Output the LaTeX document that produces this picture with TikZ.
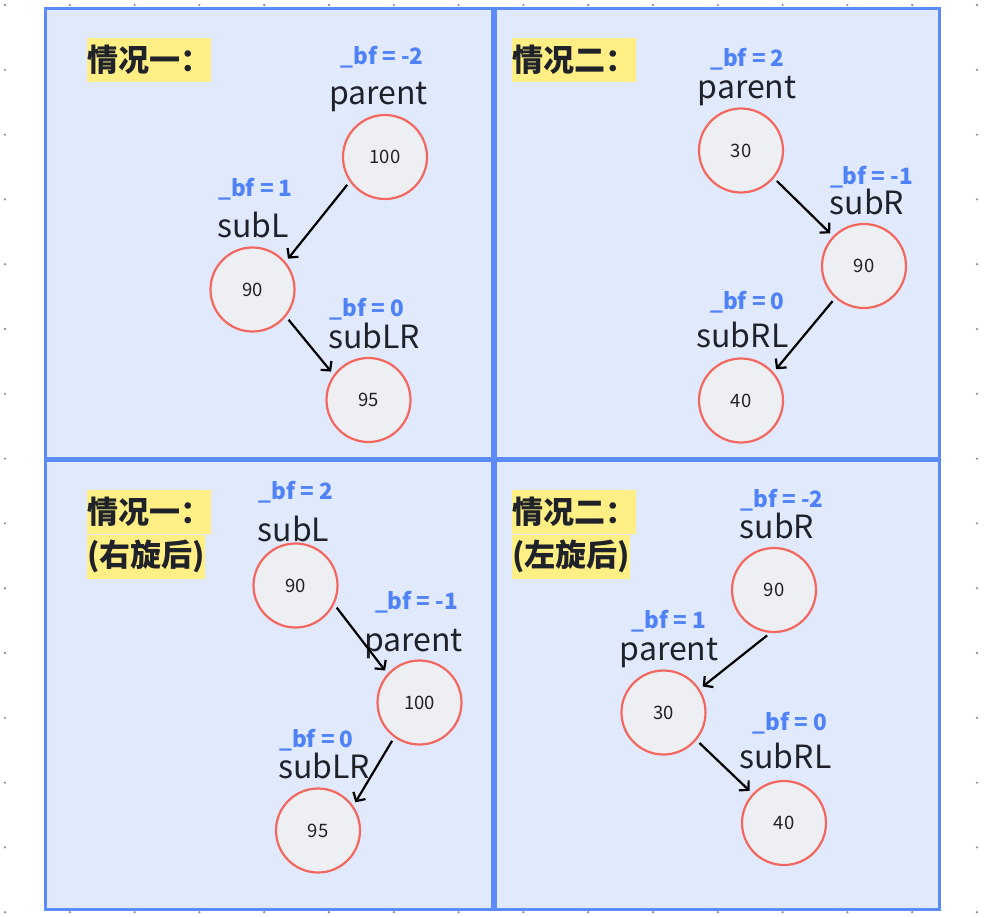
\documentclass[tikz,border=0pt]{standalone}
\usepackage{fontspec}
\usepackage{tikz}
\usetikzlibrary{arrows.meta, positioning}
\newfontfamily\cjk{Noto Sans CJK SC}
\definecolor{panelfill}{HTML}{E1E9FD}
\definecolor{panelline}{HTML}{5A8BF8}
\definecolor{bfblue}{HTML}{4F82F7}
\definecolor{ringred}{HTML}{F4675F}
\definecolor{ringfill}{HTML}{EEEFF2}
\definecolor{inkdark}{HTML}{1F2329}
\definecolor{tagyellow}{HTML}{FFEF85}
\definecolor{dotgray}{HTML}{8F959E}

\begin{document}
\begin{tikzpicture}[
  x=1pt, y=-1pt,
  panel/.style={draw=panelline, fill=panelfill, line width=2.5pt},
  tag/.style={fill=tagyellow, inner sep=0pt, minimum height=44pt, anchor=north west,
              font=\cjk\bfseries\fontsize{31}{31}\selectfont, text=inkdark},
  tnode/.style={circle, draw=ringred, fill=ringfill, line width=2.2pt,
                minimum size=84pt, inner sep=0pt,
                font=\cjk\fontsize{18.5}{18.5}\selectfont, text=inkdark},
  tname/.style={inner sep=0pt, outer sep=0pt, text height=24pt, text depth=0pt,
                font=\cjk\fontsize{32}{32}\selectfont, text=inkdark},
  tbf/.style={inner sep=0pt, outer sep=0pt, text depth=0pt,
              font=\cjk\bfseries\fontsize{22.5}{22.5}\selectfont, text=bfblue},
  arrow/.style={-{Straight Barb[length=6.5pt,width=14pt]}, line width=2.2pt, color=black,
                shorten <=4pt, shorten >=4pt},
]
  \useasboundingbox (0,0) rectangle (985,916);
  % Dot grid
  \foreach \gx in {0,...,15}
    \foreach \gy in {0,...,14}
      \fill[dotgray] (5+64.8*\gx, 5+64.8*\gy) circle (1.3pt);

  % Panels
  \draw[panel] (45.5,8.5) rectangle (492.5,458);
  \draw[panel] (495.5,8.5) rectangle (939.5,458);
  \draw[panel] (45.5,460.5) rectangle (492.5,909.5);
  \draw[panel] (495.5,460.5) rectangle (939.5,909.5);

  % Case 1
  \node[tag] (T1) at (87,38) {情况一：};
  \node[tnode] (P1)  at (385,157)     {100};
  \node[tnode] (L1)  at (252.5,289.5) {90};
  \node[tnode] (LR1) at (368.5,400)   {95};
  \node[tname, above=9pt of P1, xshift=-6.5pt]    (P1n)  {parent};
  \node[tbf, above=16pt of P1n, xshift=3.5pt]     (P1b)  {\_bf = -2};
  \node[tname, above=8.5pt of L1, xshift=0.5pt]   (L1n)  {subL};
  \node[tbf, above=17pt of L1n, xshift=2.5pt]     (L1b)  {\_bf = 1};
  \node[tname, above=8pt of LR1, xshift=5.5pt]    (LR1n) {subLR};
  \node[tbf, above=8pt of LR1n, xshift=-7pt]      (LR1b) {\_bf = 0};

  % Case 2
  \node[tag] (T2) at (512,38) {情况二：};
  \node[tnode] (P2)  at (741,150.5) {30};
  \node[tnode] (R2)  at (864,266)   {90};
  \node[tnode] (RL2) at (741,400.5) {40};
  \node[tname, above=8.8pt of P2, xshift=6pt]     (P2n)  {parent};
  \node[tbf, above=7.7pt of P2n, xshift=0.5pt]    (P2b)  {\_bf = 2};
  \node[tname, above=8.3pt of R2, xshift=3pt]     (R2n)  {subR};
  \node[tbf, above=6pt of R2n, xshift=4.5pt]      (R2b)  {\_bf = -1};
  \node[tname, above=9.5pt of RL2, xshift=1.5pt]  (RL2n) {subRL};
  \node[tbf, above=14.3pt of RL2n, xshift=5pt]    (RL2b) {\_bf = 0};

  % Case 1 after right rotation
  \node[tag] (T3a) at (87,490) {情况一：};
  \node[tag] (T3b) at (T3a.south west) {(右旋后)};
  \node[tnode] (L3)  at (295.5,585.5) {90};
  \node[tnode] (P3)  at (419.5,702.5) {100};
  \node[tnode] (LR3) at (318,830.5)   {95};
  \node[tname, above=0.5pt of L3, xshift=-2pt]    (L3n)  {subL};
  \node[tbf, above=18.3pt of L3n, xshift=2.5pt]   (L3b)  {\_bf = 2};
  \node[tname, above=7.5pt of P3, xshift=-6pt]    (P3n)  {parent};
  \node[tbf, above=18.3pt of P3n, xshift=3pt]     (P3b)  {\_bf = -1};
  \node[tname, above=8.5pt of LR3, xshift=6pt]    (LR3n) {subLR};
  \node[tbf, above=7pt of LR3n, xshift=-7.5pt]    (LR3b) {\_bf = 0};

  % Case 2 after left rotation
  \node[tag] (T4a) at (512,490) {情况二：};
  \node[tag] (T4b) at (T4a.south west) {(左旋后)};
  \node[tnode] (R4)  at (774,590)     {90};
  \node[tnode] (P4)  at (663.5,712.5) {30};
  \node[tnode] (RL4) at (784,823)     {40};
  \node[tname, above=8pt of R4, xshift=3pt]       (R4n)  {subR};
  \node[tbf, above=7pt of R4n, xshift=5pt]        (R4b)  {\_bf = -2};
  \node[tname, above=8.5pt of P4, xshift=5.5pt]   (P4n)  {parent};
  \node[tbf, above=8.3pt of P4n]                  (P4b)  {\_bf = 1};
  \node[tname, above=11.3pt of RL4, xshift=1.5pt] (RL4n) {subRL};
  \node[tbf, above=13.7pt of RL4n, xshift=4.5pt]  (RL4b) {\_bf = 0};

  % Edges
  \draw[arrow] (P1.215) -- (L1.40);
  \draw[arrow] (L1.-39) -- (LR1.144);
  \draw[arrow] (P2.-40) -- (R2.136);
  \draw[arrow] (R2.228) -- (RL2.41);
  \draw[arrow] (L3.-26) -- (P3.138);
  \draw[arrow] (P3.234) -- (LR3.35);
  \draw[arrow] (R4.265) -- (P4.33);
  \draw[arrow] (P4.-40) -- (RL4.137);
\end{tikzpicture}
\end{document}
